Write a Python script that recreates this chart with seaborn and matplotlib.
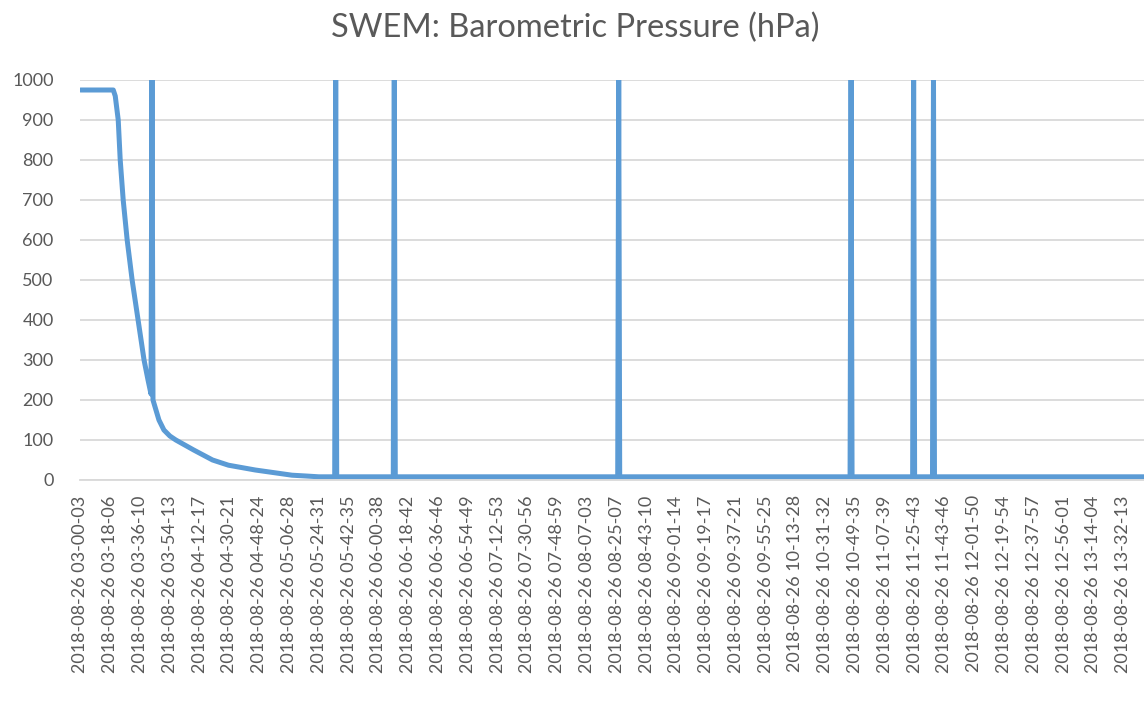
import matplotlib
matplotlib.use("Agg")
import matplotlib.pyplot as plt
import seaborn as sns
import pandas as pd

# ---- data ----
title = "SWEM: Barometric Pressure (hPa)"

# sample number (row in the log) and pressure reading at that sample
sample_idx = [0, 33, 35, 38, 40, 43, 47, 52, 55, 58, 61, 64, 68, 71, 72, 73, 79, 84,
              90, 96, 114, 133, 149, 176, 213, 227, 240,
              256, 257, 258,
              315, 316, 317,
              541, 542, 543,
              775, 776, 777,
              838, 839, 840,
              858, 859, 860,
              1075]
pressure = [975, 975, 960, 900, 800, 700, 600, 500, 450, 400, 350, 300, 250, 215, 1013, 200, 150, 125,
            110, 100, 75, 50, 37, 25, 12, 10, 8,
            8, 1013, 8,
            8, 1013, 8,
            8, 1013, 8,
            8, 1013, 8,
            8, 1013, 8,
            8, 1013, 8,
            8]

tick_labels = [
    "2018-08-26 03-00-03", "2018-08-26 03-18-06", "2018-08-26 03-36-10", "2018-08-26 03-54-13",
    "2018-08-26 04-12-17", "2018-08-26 04-30-21", "2018-08-26 04-48-24", "2018-08-26 05-06-28",
    "2018-08-26 05-24-31", "2018-08-26 05-42-35", "2018-08-26 06-00-38", "2018-08-26 06-18-42",
    "2018-08-26 06-36-46", "2018-08-26 06-54-49", "2018-08-26 07-12-53", "2018-08-26 07-30-56",
    "2018-08-26 07-48-59", "2018-08-26 08-07-03", "2018-08-26 08-25-07", "2018-08-26 08-43-10",
    "2018-08-26 09-01-14", "2018-08-26 09-19-17", "2018-08-26 09-37-21", "2018-08-26 09-55-25",
    "2018-08-26 10-13-28", "2018-08-26 10-31-32", "2018-08-26 10-49-35", "2018-08-26 11-07-39",
    "2018-08-26 11-25-43", "2018-08-26 11-43-46", "2018-08-26 12-01-50", "2018-08-26 12-19-54",
    "2018-08-26 12-37-57", "2018-08-26 12-56-01", "2018-08-26 13-14-04", "2018-08-26 13-32-13",
]
label_every = 30  # one axis label every 30 samples
y_ticks = [0, 100, 200, 300, 400, 500, 600, 700, 800, 900, 1000]

# ---- style ----
sns.set_theme(style="white")
plt.rcParams["font.family"] = ["Lato", "DejaVu Sans"]
text_color = "#595959"
grid_color = "#D9D9D9"
line_color = "#5B9BD5"

fig = plt.figure(figsize=(11.44, 7.02), dpi=100)
ax = fig.add_axes([80 / 1144, 1 - 480 / 702, 1 - 80 / 1144, 400 / 702])

df = pd.DataFrame({"sample": sample_idx, "pressure": pressure})
sns.lineplot(data=df, x="sample", y="pressure", ax=ax, color=line_color,
             linewidth=3.6, sort=False, estimator=None, solid_joinstyle="round")

ax.set_ylim(0, 1000)
ax.set_xlim(-0.5, 1071)
ax.set_yticks(y_ticks)
ax.set_yticklabels([str(v) for v in y_ticks])
ax.set_xticks([i * label_every for i in range(len(tick_labels))])
ax.set_xticklabels(tick_labels, rotation=90)

ax.yaxis.grid(True, color=grid_color, linewidth=1.3)
ax.xaxis.grid(False)
ax.set_axisbelow(True)
for s in ["left", "right", "top"]:
    ax.spines[s].set_visible(False)
ax.spines["bottom"].set_color(grid_color)
ax.spines["bottom"].set_linewidth(1.3)
ax.tick_params(axis="both", length=0, colors=text_color, labelsize=13)
ax.tick_params(axis="y", pad=19)
ax.tick_params(axis="x", pad=11)
ax.set_xlabel("")
ax.set_ylabel("")

fig.text(0.503, 1 - 28 / 702, title, ha="center", va="center",
         fontsize=23.5, color=text_color)

fig.savefig("out.png", dpi=100)
